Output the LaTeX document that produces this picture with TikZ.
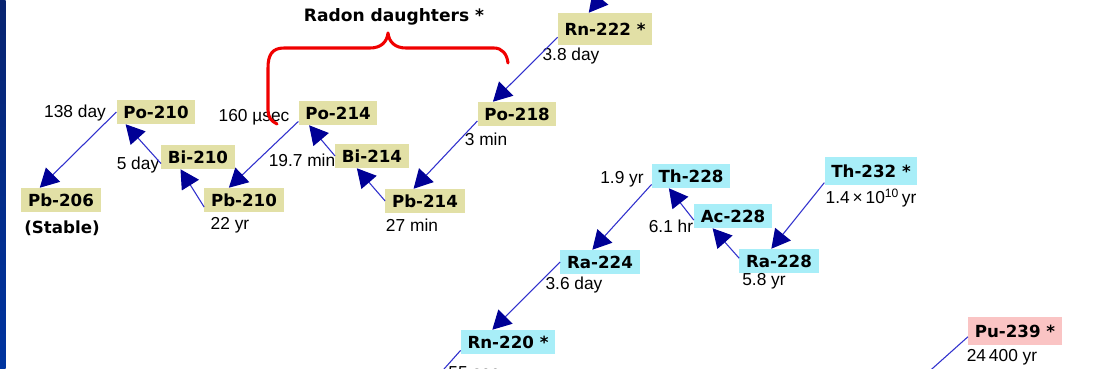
\documentclass[tikz,border=0pt]{standalone}
\usepackage{fontspec}
\setmainfont{Liberation Sans}
\newfontfamily\nucfont{DejaVu Sans}
\usepackage{tikz}
\usetikzlibrary{arrows.meta}
\usetikzlibrary{calc}

\definecolor{radbox}{RGB}{226,224,166}
\definecolor{thbox}{RGB}{168,238,248}
\definecolor{pubox}{RGB}{250,196,196}
\definecolor{decayline}{RGB}{48,48,205}
\definecolor{decayhead}{RGB}{0,0,150}
\definecolor{bracered}{RGB}{240,0,0}
\definecolor{bartop}{RGB}{8,36,112}
\definecolor{barbot}{RGB}{0,52,160}

\tikzset{
  nuc/.style={fill=radbox, inner xsep=5pt, inner ysep=2pt, minimum height=18pt,
    font=\nucfont\bfseries\fontsize{12.5}{14}\selectfont},
  thnuc/.style={nuc, fill=thbox},
  punuc/.style={nuc, fill=pubox},
  halflife/.style={inner sep=0pt, font=\fontsize{13}{15}\selectfont},
  decaytail/.style={draw=decayline, line width=0.8pt},
  decay/.style={-{Triangle[length=14pt,width=15pt,color=decayhead]},
    every edge/.style={decaytail}},
  brace/.style={draw=bracered, line width=2.3pt, line cap=round, line join=round}
}

\begin{document}
\begin{tikzpicture}[x=0.75pt, y=-0.75pt]
\path[use as bounding box, clip] (0,0) rectangle (1099,368);
\fill[white] (0,0) rectangle (1099,368);
\shade[top color=bartop, bottom color=barbot] (0,0) rectangle (5.5,368);

\node[nuc] (po210) at (156,112) {Po-210};
\node[nuc] (bi210) at (198,157) {Bi-210};
\node[nuc] (pb210) at (244,200) {Pb-210};
\node[nuc] (pb206) at (61,200) {Pb-206};
\node[font=\nucfont\bfseries\fontsize{12.5}{14}\selectfont] (stable) at (62,228) {(Stable)};
\node[nuc] (po214) at (338,113) {Po-214};
\node[nuc] (bi214) at (372,156) {Bi-214};
\node[nuc] (pb214) at (425,201) {Pb-214};
\node[nuc] (po218) at (517,114) {Po-218};
\node[nuc, minimum height=24pt] (rn222) at (605,29) {Rn-222 *};
\node[thnuc] (th228) at (691,176) {Th-228};
\node[thnuc] (ac228) at (733,216) {Ac-228};
\node[thnuc] (ra228) at (779,261) {Ra-228};
\node[thnuc, minimum height=21pt] (th232) at (871,171) {Th-232 *};
\node[thnuc] (ra224) at (600,262) {Ra-224};
\node[thnuc] (rn220) at (508,342) {Rn-220 *};
\node[punuc, minimum height=21pt] (pu239) at (1015,331) {Pu-239 *};

\node[halflife] (t210po) at (75,113) {138 day};
\node[halflife] (t210bi) at (138,165) {5 day};
\node[halflife] (t214po) at (254,117) {160 µsec};
\node[halflife] (t214bi) at (302,160) {19.7 min};
\node[halflife] (t210pb) at (230,225) {22 yr};
\node[halflife] (t214pb) at (412,225) {27 min};
\node[halflife] (t218po) at (486,139) {3 min};
\node[halflife] (t222rn) at (571,56) {3.8 day};
\node[halflife] (t228th) at (622,179) {1.9 yr};
\node[halflife] (t228ac) at (671,226) {6.1 hr};
\node[halflife] (t228ra) at (764,281) {5.8 yr};
\node[halflife] (t232th) at (871,198) {1.4\,×\,10\textsuperscript{10}\,yr};
\node[halflife] (t224ra) at (574,285) {3.6 day};
\node[halflife] (t220rn) at (474,373) {55 sec};
\node[halflife] (t239pu) at (1002,357) {24\,400 yr};

\node[font=\nucfont\bfseries\fontsize{12.8}{14}\selectfont] (title) at (394,17) {Radon daughters *};

\coordinate (ra226) at (640,-50);
\coordinate (po216) at (420,396);
\coordinate (u235) at (905,393);

\path[decay]
(po210.west) edge (pb206.150)
(bi210.190) edge (po210.202)
(pb210.190) edge (bi210.215)
(po214.192) edge (pb210.141)
(bi214.west) edge (po214.203)
(pb214.west) edge (bi214.219)
(po218.190) edge (pb214.133)
(rn222.190) edge (po218.153)
(ra226) edge (rn222.135)
(th228.192) edge (ra224.122)
(ac228.186) edge (th228.209)
(ra228.176) edge (ac228.211)
(th232.194) edge (ra228.122)
(ra224.west) edge (rn220.142)
;
\draw[decaytail] (rn220.190) -- (po216);
\draw[decaytail] (pu239.187) -- (u235);

\draw[brace] (277,124) .. controls (271,121) and (268,117) .. (268,110) -- (268,68)
  .. controls (268,55) and (272,48) .. (284,48) -- (370,48)
  .. controls (381,48) and (387,42) .. (388,33)
  .. controls (389,42) and (395,48) .. (406,48) -- (494,48)
  .. controls (502,48) and (507,54) .. (508,63);
\end{tikzpicture}
\end{document}
